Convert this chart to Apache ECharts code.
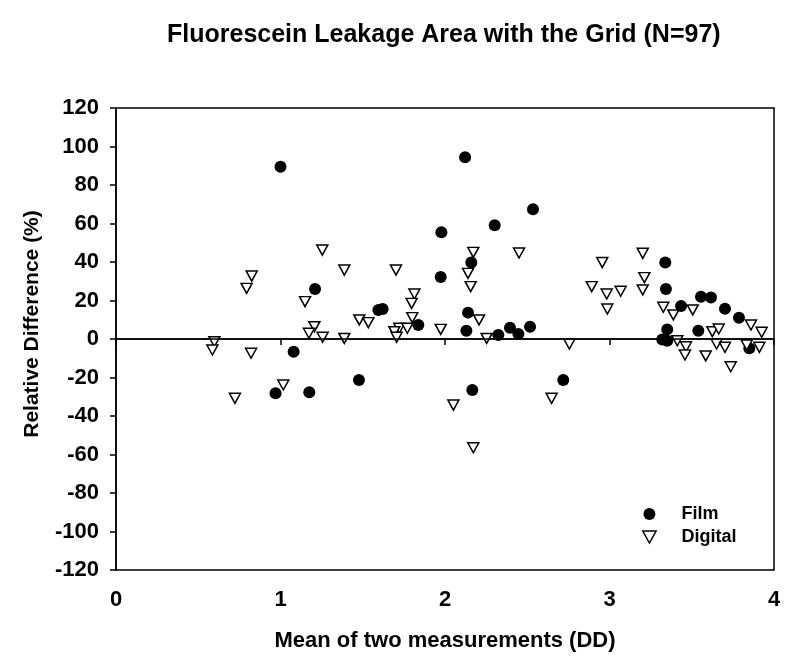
<!DOCTYPE html>
<html>
<head>
<meta charset="utf-8">
<script src="https://cdn.jsdelivr.net/npm/echarts@6/dist/echarts.min.js"></script>
<style>html,body{margin:0;padding:0;background:#fff}#c{width:800px;height:668px}</style>
</head>
<body>
<div id="c"></div>
<script>
var titleText = 'Fluorescein Leakage Area with the Grid (N=97)';
var xName = 'Mean of two measurements (DD)';
var yName = 'Relative Difference (%)';
var seriesNames = ['Film', 'Digital'];

var filmX = [1.00, 1.21, 1.08, 0.97, 1.175, 1.477, 2.122, 2.535, 2.302, 1.978, 2.160, 1.974, 1.595, 1.621, 2.140, 1.838, 2.130, 2.395, 2.517, 2.324, 2.446, 2.166, 2.719, 3.339, 3.343, 3.435, 3.556, 3.617, 3.702, 3.787, 3.351, 3.540, 3.321, 3.351, 3.850];
var filmY = [89.5, 26.0, -6.6, -28.2, -27.7, -21.3, 94.4, 67.4, 59.1, 55.4, 39.7, 32.2, 15.1, 15.6, 13.7, 7.3, 4.3, 5.9, 6.4, 2.1, 2.6, -26.5, -21.3, 39.7, 26.0, 17.1, 22.0, 21.5, 15.7, 11.1, 5.0, 4.3, -0.2, -0.9, -4.8];

var digitalX = [1.254, 1.388, 0.825, 0.794, 1.149, 1.206, 1.173, 1.256, 1.388, 0.598, 0.586, 0.821, 1.017, 0.723,
  2.172, 2.450, 1.702, 2.140, 2.156, 1.814, 1.797, 1.801, 1.479, 1.534, 2.207, 1.722, 1.771, 1.692, 1.974, 1.706, 2.253, 2.756,
  2.051, 2.648, 2.172,
  3.202, 2.956, 2.892, 3.212, 3.202, 2.983, 3.068, 2.987, 3.327, 3.388, 3.506, 3.860, 3.925, 3.625, 3.664, 3.412, 3.465, 3.459, 3.651, 3.702, 3.585, 3.834, 3.911, 3.737];
var digitalY = [46.2, 35.8, 32.7, 26.3, 19.4, 6.4, 3.0, 0.9, 0.3, -1.4, -5.7, -7.4, -23.9, -30.8,
  45.0, 44.7, 35.8, 34.1, 27.2, 23.4, 18.5, 11.1, 9.9, 8.5, 9.9, 5.6, 5.6, 3.8, 5.0, 0.9, 0.3, -2.6,
  -34.3, -30.8, -56.5,
  44.5, 39.7, 27.2, 31.9, 25.5, 23.4, 24.8, 15.6, 16.5, 12.5, 15.1, 7.3, 3.5, 3.8, 5.2, -0.9, -4.0, -8.3, -2.6, -4.3, -8.8, -3.1, -4.3, -14.4];

function pairs(xs, ys) { return xs.map(function (x, i) { return [x, ys[i]]; }); }

var FONT = 'Liberation Sans, Arial, sans-serif';
var chart = echarts.init(document.getElementById('c'));
chart.setOption({
  animation: false,
  backgroundColor: '#fff',
  title: {
    text: titleText, left: 162, top: 18,
    textStyle: { fontFamily: FONT, fontWeight: 'bold', fontSize: 25, color: '#000' }
  },
  grid: { left: 116, right: 26, top: 108, bottom: 98, show: true, borderColor: '#000', borderWidth: 1.5, backgroundColor: 'transparent' },
  legend: {
    orient: 'vertical', left: 637, top: 500, itemGap: 5, itemWidth: 14, itemHeight: 12,
    textStyle: { fontFamily: FONT, fontWeight: 'bold', fontSize: 18, color: '#000', padding: [0, 0, 0, 20] },
    data: [
      { name: seriesNames[0], icon: 'circle', itemStyle: { color: '#000', borderWidth: 0 } },
      { name: seriesNames[1], icon: 'path://M0,0 L10,0 L5,9 Z', itemStyle: { color: '#fff', borderColor: '#000', borderWidth: 1.5 } }
    ]
  },
  xAxis: {
    type: 'value', min: 0, max: 4, interval: 1,
    name: xName, nameLocation: 'middle', nameGap: 60,
    nameTextStyle: { fontFamily: FONT, fontWeight: 'bold', fontSize: 22, color: '#000' },
    axisLine: { show: true, lineStyle: { color: '#000', width: 1.5 } },
    axisTick: { show: true, inside: false, length: 6, lineStyle: { color: '#000', width: 1.5 } },
    axisLabel: { margin: 19, fontFamily: FONT, fontWeight: 'bold', fontSize: 22, color: '#000' },
    splitLine: { show: false }
  },
  yAxis: {
    type: 'value', min: -120, max: 120, interval: 20,
    name: yName, nameLocation: 'middle', nameGap: 73,
    nameTextStyle: { fontFamily: FONT, fontWeight: 'bold', fontSize: 21, color: '#000', padding: [0, 0, 0, 30] },
    axisLine: { show: true, lineStyle: { color: '#000', width: 1.5 } },
    axisTick: { show: true, inside: false, length: 6, lineStyle: { color: '#000', width: 1.5 } },
    axisLabel: { margin: 17, fontFamily: FONT, fontWeight: 'bold', fontSize: 22, color: '#000' },
    splitLine: { show: false }
  },
  series: [
    {
      name: seriesNames[0], type: 'scatter', symbol: 'circle', symbolSize: 12,
      itemStyle: { color: '#000', opacity: 1 },
      data: pairs(filmX, filmY),
      markLine: {
        silent: true, symbol: 'none', label: { show: false },
        lineStyle: { color: '#000', width: 1.5, type: 'solid' },
        data: [{ yAxis: 0 }]
      },
      z: 3
    },
    {
      name: seriesNames[1], type: 'scatter', symbol: 'path://M0,0 L10,0 L5,9 Z', symbolSize: [11, 10],
      itemStyle: { color: '#fff', borderColor: '#000', borderWidth: 1.5, opacity: 1 },
      data: pairs(digitalX, digitalY),
      z: 4
    }
  ]
});
</script>
</body>
</html>
